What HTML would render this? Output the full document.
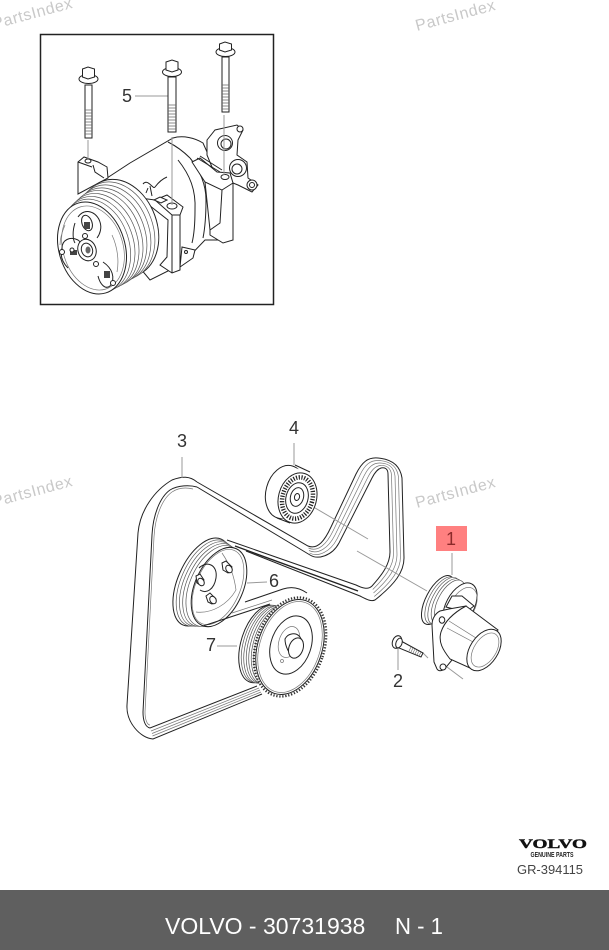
<!DOCTYPE html>
<html>
<head>
<meta charset="utf-8">
<style>
html,body{margin:0;padding:0;background:#fff;width:609px;height:950px;overflow:hidden}
svg{display:block}
text{font-family:"Liberation Sans",sans-serif}
.l{fill:none;stroke:#222;stroke-width:1}
.w{fill:#fff;stroke:#222;stroke-width:1}
.r{fill:none;stroke:#777;stroke-width:.7}
.rw{fill:#fff;stroke:#555;stroke-width:.7}
.t{fill:none;stroke:#999;stroke-width:1}
.n{font-size:18px;fill:#333;text-anchor:middle}
.wm{font-size:16px;fill:#c9c9c9;letter-spacing:.6px}
</style>
</head>
<body>
<svg width="609" height="950" viewBox="0 0 609 950" xmlns="http://www.w3.org/2000/svg">
<rect width="609" height="950" fill="#fff"/>

<!-- watermarks -->
<text class="wm" transform="translate(-6,29) rotate(-15)">PartsIndex</text>
<text class="wm" transform="translate(417,31) rotate(-15)">PartsIndex</text>
<text class="wm" transform="translate(-6,507) rotate(-15)">PartsIndex</text>
<text class="wm" transform="translate(417,508) rotate(-15)">PartsIndex</text>

<!-- inset box -->
<rect x="40.5" y="34.5" width="233" height="270" fill="none" stroke="#222" stroke-width="1.5"/>

<!-- compressor body -->
<path class="w" d="M104 180L130 163L173 138C183 135 195 138 203 143L216 172L233 183L233 240L205 240L182 264L150 280L125 250Z"/>
<path class="l" d="M178 160C190 175 196 190 195 210C195 225 194 235 192 243"/>
<path class="l" d="M190 158C200 170 206 185 206 200C206 215 205 228 203 238"/>
<path class="l" d="M168 142C176 146 184 152 190 158"/>
<!-- manifold -->
<path class="w" d="M207 140L215 130L237 125L243 130L238 140L237 155L247 162L248 178L258 185L252 192L238 185L233 183L214 172L207 155Z"/>
<circle class="w" cx="225" cy="143" r="7.5"/><circle class="l" cx="226" cy="144" r="5"/>
<circle class="w" cx="238" cy="168" r="8.5" stroke-width="1.5"/><circle class="l" cx="237" cy="169" r="5"/>
<circle class="w" cx="240" cy="129" r="3"/>
<circle class="w" cx="252" cy="185" r="5"/><circle class="l" cx="252" cy="185" r="2.5"/>
<!-- right bracket -->
<path class="w" d="M192 162L200 158L217 172L230 173L233 183L233 240L223 243L210 235L210 230L220 223L222 190L205 182Z"/>
<ellipse class="w" cx="225" cy="177" rx="4" ry="2.5"/>
<path class="l" d="M197 158L220 172M200 156L222 170"/>
<path class="l" d="M205 182L210 230M222 190L233 183"/>
<!-- left bracket -->
<path class="w" d="M78 162L84 157L98 162L107 167L108 178L78 194Z"/>
<path class="l" d="M93 165L95 172L104 178M78 162L92 167"/>
<ellipse class="w" cx="88" cy="161" rx="3" ry="2"/>
<!-- foot -->
<path class="w" d="M182 247L195 250L193 258L180 267Z"/>
<circle class="l" cx="186" cy="252" r="1.5"/>
<!-- wires -->
<path class="l" d="M143 184C148 178 153 190 155 187C158 183 162 179 167 177M150 186L152 196M148 188L146 193"/>
<!-- mid bracket -->
<path class="w" d="M140 198L155 200L167 195L183 207L180 215L180 270L172 273L160 265L167 257L168 220Z"/>
<path class="l" d="M172 215L172 273M172 215L180 215M155 200L172 215"/>
<ellipse class="w" cx="172" cy="206" rx="5" ry="3"/>
<path class="w" d="M154 200L160 197L167 200L161 203Z"/>

<!-- compressor pulley stack -->
<ellipse class="w" cx="120" cy="228" rx="37" ry="50" transform="rotate(-20 120 228)"/>
<ellipse class="rw" cx="116.5" cy="230.5" rx="36.5" ry="50" transform="rotate(-20 116.5 230.5)"/>
<ellipse class="rw" cx="113" cy="233" rx="36" ry="49.5" transform="rotate(-20 113 233)"/>
<ellipse class="rw" cx="109.5" cy="235.5" rx="35.5" ry="49" transform="rotate(-20 109.5 235.5)"/>
<ellipse class="rw" cx="106" cy="238" rx="35" ry="49" transform="rotate(-20 106 238)"/>
<ellipse class="rw" cx="102.5" cy="240.5" rx="34.5" ry="48.5" transform="rotate(-20 102.5 240.5)"/>
<ellipse class="rw" cx="99" cy="243" rx="34" ry="48" transform="rotate(-20 99 243)"/>
<ellipse class="rw" cx="95.5" cy="245.5" rx="33.5" ry="47.5" transform="rotate(-18 95.5 245.5)"/>
<ellipse class="w" cx="92" cy="248" rx="33" ry="47" transform="rotate(-17 92 248)" stroke-width="1.2"/>
<ellipse class="r" cx="93" cy="248" rx="30" ry="43" transform="rotate(-17 93 248)"/>
<!-- clutch plate -->
<path class="l" d="M78 217C85 207 97 212 100 222C102 228 100 234 97 238"/>
<path class="l" d="M75 223C72 232 73 240 75 243"/>
<path class="l" d="M62 248C62 240 70 236 78 240C82 243 84 248 84 252"/>
<path class="l" d="M68 268C62 262 60 255 62 248"/>
<path class="l" d="M103 262C112 268 116 278 110 286C105 290 100 284 98 276"/>
<ellipse class="w" cx="87" cy="223" rx="5" ry="8" transform="rotate(-20 87 223)"/>
<rect x="84" y="222" width="6" height="7" fill="#444"/>
<rect x="70" y="250" width="7" height="5" fill="#444"/>
<rect x="104" y="271" width="6" height="7" fill="#444"/>
<ellipse class="w" cx="87" cy="250" rx="9" ry="11" transform="rotate(-20 87 250)"/>
<ellipse class="l" cx="87" cy="250" rx="5.5" ry="7" transform="rotate(-20 87 250)"/>
<ellipse fill="#666" cx="88" cy="250" rx="2.5" ry="3.5"/>
<circle class="w" cx="62" cy="252" r="2.5"/>
<circle class="w" cx="72" cy="250" r="2"/>
<circle class="w" cx="85" cy="236" r="2.5"/>
<circle class="w" cx="96" cy="264" r="2.5"/>
<circle class="w" cx="113" cy="283" r="2.5"/>
<path class="r" d="M65 225C62 232 60 240 60 245M112 235C118 248 119 262 117 272"/>

<!-- leaders inset -->
<path class="t" d="M88 140V160M172 137V205M224 115V175M135 96H168"/>

<!-- bolts -->
<g>
<path class="w" d="M85 85H92V138H85Z"/>
<path d="M85 110H92M85 113H92M85 116H92M85 119H92M85 122H92M85 125H92M85 128H92M85 131H92M85 134H92" stroke="#666" stroke-width=".8"/>
<ellipse class="w" cx="88.5" cy="79" rx="9.5" ry="4.5"/>
<path class="w" d="M82.5 69L88 67L94.5 69L94.5 77L88 79L82.5 77Z"/>
<path class="w" d="M168 77H176V132H168Z"/>
<path d="M168 105H176M168 108H176M168 111H176M168 114H176M168 117H176M168 120H176M168 123H176M168 126H176M168 129H176" stroke="#666" stroke-width=".8"/>
<ellipse class="w" cx="172" cy="72" rx="9.5" ry="4.5"/>
<path class="w" d="M166 62L172 60L178 62L178 70L172 72L166 70Z"/>
<path class="w" d="M222 57H229V112H222Z"/>
<path d="M222 85H229M222 88H229M222 91H229M222 94H229M222 97H229M222 100H229M222 103H229M222 106H229M222 109H229" stroke="#666" stroke-width=".8"/>
<ellipse class="w" cx="225.5" cy="52" rx="9.5" ry="4.5"/>
<path class="w" d="M219.5 44L225 42L231.5 44L231.5 50L225 52L219.5 50Z"/>
</g>
<text class="n" x="127" y="102">5</text>

<!-- ================= belt ================= -->
<path class="l" d="M197 482C190 476 182 476 172 480C155 490 140 510 138 533L127 705C126 722 140 738 153 739L262 694"/>
<path class="l" d="M197 487C190 485 178 485 170 490C160 497 153 515 152 535L143 712C143 720 145 727 150 728L257 686"/>
<path class="r" d="M193 489C185 487 178 488 172 492C162 499 155 517 154 537L145 712C145 719 147 725 150 725"/>
<path class="r" d="M151 731L259 688M152 733.5L260 690M152.5 736L261 692"/>
<path class="l" d="M197 482L308 546C318 550 325 540 331 527L356 474C362 462 368 457 378 458C390 459 400 464 402 478L404 558C404 572 395 584 375 600C371 602 366 599 360 596L246 551"/>
<path class="l" d="M197 487L310 555C318 560 332 556 339 543L372 478C375 472 378 469 381 468C385 467 388 469 388 474L390 552C390 564 382 575 372 586C368 590 362 588 356 585L227 540"/>
<path class="r" d="M308.5 548C318 552.5 326.75 544 333 531L360 475C365 464.5 370.5 460 378.75 460.5C388.75 461 397 465.25 398.5 477L400.5 556.5C400.5 570 391.75 581.75 374.25 596.5"/>
<path class="r" d="M309 550.5C318 555 328.5 548 335 535L364 476C368.5 467 373 463 379.5 463C387.5 463 394 466.5 395 476L397 555C397 568 388.5 579.5 373.5 593"/>
<path class="r" d="M309.5 553C318 557.5 330.25 552 337 539L368 477C371.75 469.5 375.5 466 380.25 465.5C386.25 465 391 467.75 391.5 475L393.5 553.5C393.5 566 385.25 577.25 372.75 589.5"/>
<path d="M235 546L358 591" stroke="#222" stroke-width="1.4" fill="none"/>

<!-- leaders -->
<path class="t" d="M182 457V478M294 443V465M247 583L267 582M217 646H237M310 505L368 539M357 551L427 591M452 553V575M398 648V670M423 653L428 658M447 667L463 679"/>

<!-- pulley 6 -->
<ellipse class="w" cx="202" cy="582" rx="24" ry="47" transform="rotate(24 202 582)"/>
<ellipse class="rw" cx="205" cy="583" rx="24" ry="46" transform="rotate(24 205 583)"/>
<ellipse class="rw" cx="208" cy="584" rx="24" ry="45" transform="rotate(24 208 584)"/>
<ellipse class="rw" cx="211" cy="585" rx="24" ry="44" transform="rotate(24 211 585)"/>
<ellipse class="rw" cx="214" cy="586" rx="24" ry="43" transform="rotate(24 214 586)"/>
<ellipse class="w" cx="219" cy="587" rx="24" ry="42" transform="rotate(24 219 587)"/>
<ellipse class="r" cx="218" cy="587" rx="22" ry="40" transform="rotate(24 218 587)"/>
<path class="l" d="M199 568C207 560 218 565 216 578C214 590 206 594 200 590"/>
<path class="r" d="M196 612C212 614 228 604 236 590M222 553C230 565 234 575 236 590"/>
<!-- bolts on pulley 6 -->
<path class="w" d="M222 563L226 561L232 567L228 573L223 570Z"/>
<ellipse class="w" cx="229" cy="569" rx="3" ry="4" transform="rotate(-30 229 569)"/>
<path class="w" d="M196 576L200 574L204 580L200 585L197 583Z"/>
<ellipse class="w" cx="201" cy="582" rx="3" ry="4" transform="rotate(-30 201 582)"/>
<path class="w" d="M206 596L210 593L216 599L212 604L208 602Z"/>
<ellipse class="w" cx="213" cy="600" rx="3" ry="4" transform="rotate(-30 213 600)"/>

<!-- short belt -->
<path class="l" d="M203 626L270 604"/>
<path class="l" d="M245 602L283 589C292 586 300 588 307 593"/>
<path class="r" d="M232 613L272 600"/>

<!-- pulley 7 -->
<ellipse class="w" cx="262" cy="644" rx="21" ry="40" transform="rotate(17 262 644)"/>
<ellipse class="rw" cx="264.5" cy="644" rx="21" ry="40" transform="rotate(17 264.5 644)"/>
<ellipse class="rw" cx="267" cy="644.5" rx="21" ry="40" transform="rotate(17 267 644.5)"/>
<ellipse class="rw" cx="269.5" cy="644.5" rx="21" ry="40" transform="rotate(17 269.5 644.5)"/>
<ellipse class="rw" cx="272" cy="645" rx="21" ry="40" transform="rotate(17 272 645)"/>
<ellipse class="rw" cx="274.5" cy="645" rx="21" ry="40" transform="rotate(17 274.5 645)"/>
<ellipse class="rw" cx="277" cy="645.5" rx="21" ry="40" transform="rotate(17 277 645.5)"/>
<ellipse fill="#fff" stroke="#333" stroke-width="2.4" stroke-dasharray="1.3 1.7" cx="290" cy="647" rx="34" ry="51" transform="rotate(19 290 647)"/>
<ellipse class="w" cx="290" cy="647" rx="32" ry="49" transform="rotate(19 290 647)" stroke-width=".9"/>
<ellipse class="r" cx="290" cy="647" rx="30" ry="47" transform="rotate(19 290 647)"/>
<ellipse class="l" cx="291" cy="645" rx="20" ry="30" transform="rotate(19 291 645)"/>
<ellipse class="r" cx="289" cy="642" rx="10" ry="16" transform="rotate(19 289 642)"/>
<path class="w" d="M285 639C288 633 296 632 300 637L303 642L294 658C289 654 285 646 285 639Z"/>
<ellipse class="w" cx="296" cy="648" rx="7" ry="10.5" transform="rotate(20 296 648)" stroke-width="1.4"/>
<circle class="r" cx="282" cy="661" r="1.5"/>

<!-- pulley 4 -->
<ellipse class="w" cx="285" cy="492" rx="19" ry="27" transform="rotate(15 285 492)"/>
<path fill="#fff" stroke="none" d="M290 466L312 474L302 523L280 518Z"/>
<path class="l" d="M295 465L310 472M277 518L290 523"/>
<ellipse class="w" cx="297.5" cy="498" rx="19" ry="25.5" transform="rotate(15 297.5 498)"/>
<ellipse fill="none" stroke="#222" stroke-width="4.5" stroke-dasharray="1.2 1.5" cx="297.5" cy="498" rx="15" ry="21" transform="rotate(15 297.5 498)"/>
<ellipse class="w" cx="297" cy="498" rx="11" ry="15.5" transform="rotate(15 297 498)"/>
<ellipse class="l" cx="297" cy="497" rx="6.5" ry="9.5" transform="rotate(15 297 497)"/>
<ellipse class="l" cx="297" cy="497" rx="2.5" ry="3.5" transform="rotate(15 297 497)"/>

<!-- tensioner -->
<ellipse class="w" cx="438" cy="600" rx="12" ry="27" transform="rotate(28 438 600)"/>
<ellipse class="rw" cx="441" cy="600.5" rx="12" ry="26" transform="rotate(28 441 600.5)"/>
<ellipse class="rw" cx="444" cy="601" rx="12" ry="26" transform="rotate(28 444 601)"/>
<ellipse class="rw" cx="447" cy="601.5" rx="12" ry="25" transform="rotate(28 447 601.5)"/>
<ellipse class="rw" cx="450" cy="602" rx="12" ry="24" transform="rotate(28 450 602)"/>
<ellipse class="w" cx="460" cy="606" rx="14" ry="25" transform="rotate(28 460 606)"/>
<ellipse class="r" cx="463" cy="606" rx="12" ry="20" transform="rotate(28 463 606)"/>
<path class="w" d="M446 607L452 596L462 596L474 606L466 612Z" stroke-width=".8"/>
<!-- plate -->
<path class="w" d="M432 625C432 618 436 613 440 611L449 609L466 606L452 660L447 666C444 671 439 672 437 669L434 662Z"/>
<ellipse class="w" cx="442" cy="620" rx="2.8" ry="3.2"/>
<ellipse class="w" cx="443" cy="667" rx="3" ry="3"/>
<!-- cylinder -->
<path class="w" d="M466 606L498 630L470 668L450 659C443 650 438 642 441 632C445 620 455 612 466 606Z"/>
<path class="r" d="M447 628L475 643M449 621L476 638"/>
<!-- cylinder end -->
<ellipse class="w" cx="484" cy="650" rx="14" ry="23" transform="rotate(33 484 650)" stroke-width="1.3"/>
<ellipse class="r" cx="485" cy="650" rx="11" ry="19" transform="rotate(33 485 650)"/>

<!-- bolt 2 -->
<path class="w" d="M401 641L423 653L421 657L399 648Z"/>
<path d="M411 647L409 651M413 648L411 652M415 649L413 653M417 650L415 654M419 651L417 655M421 652L419 656" stroke="#666" stroke-width=".6"/>
<ellipse class="w" cx="397" cy="642" rx="4.5" ry="6.5" transform="rotate(20 397 642)"/>
<ellipse class="w" cx="399" cy="643" rx="3" ry="5" transform="rotate(20 399 643)"/>

<!-- item 1 box -->
<rect x="436" y="526" width="31" height="25" fill="#ff8080"/>

<!-- labels -->
<text class="n" x="182" y="447">3</text>
<text class="n" x="294" y="434">4</text>
<text class="n" x="274" y="587">6</text>
<text class="n" x="211" y="651">7</text>
<text class="n" x="398" y="687">2</text>
<text class="n" x="451" y="545" style="fill:#8c2a2a">1</text>

<!-- Volvo logo -->
<text x="553" y="848" text-anchor="middle" textLength="68" lengthAdjust="spacingAndGlyphs" style="font-family:'Liberation Serif',serif;font-weight:bold;font-size:13px;fill:#111;stroke:#111;stroke-width:.4">VOLVO</text>
<text x="552" y="857" text-anchor="middle" textLength="43" lengthAdjust="spacingAndGlyphs" style="font-size:7px;font-weight:bold;fill:#222">GENUINE PARTS</text>
<text x="550" y="874" text-anchor="middle" textLength="66" lengthAdjust="spacingAndGlyphs" style="font-size:13px;fill:#444">GR-394115</text>

<!-- footer -->
<rect x="0" y="890" width="609" height="60" fill="#5f5f5f"/>
<text x="165" y="934" style="font-size:23px;fill:#fff">VOLVO - 30731938</text>
<text x="395" y="934" textLength="48" lengthAdjust="spacingAndGlyphs" style="font-size:23px;fill:#fff">N - 1</text>
</svg>
</body>
</html>
